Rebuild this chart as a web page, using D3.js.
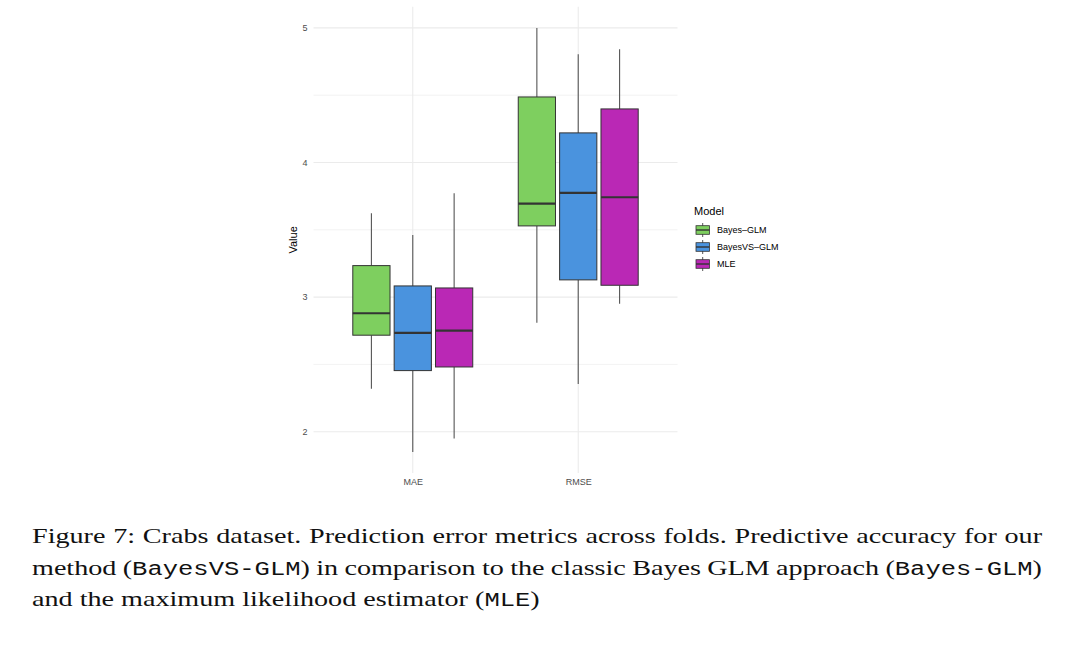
<!DOCTYPE html>
<html>
<head>
<meta charset="utf-8">
<script src="https://cdn.jsdelivr.net/npm/d3@7"></script>
<style>
  body { margin: 0; background: #fff; }
  svg { display: block; }
</style>
</head>
<body>
<svg id="chart" width="1080" height="645"></svg>
<script>
// metrics on the x axis, models in the dodge / legend
var categories = ["MAE", "RMSE"];
var models = ["Bayes-GLM", "BayesVS-GLM", "MLE"];
var colors = ["#7ECF5F", "#4A93DE", "#BA28B5"];

// box stats, [category][model]
var whiskerLow  = [[2.32, 1.85, 1.95], [2.81, 2.355, 2.95]];
var lowerQ      = [[2.717, 2.454, 2.481], [3.529, 3.128, 3.088]];
var medianV     = [[2.88, 2.734, 2.751], [3.695, 3.774, 3.742]];
var upperQ      = [[3.234, 3.083, 3.068], [4.487, 4.22, 4.398]];
var whiskerHigh = [[3.623, 3.462, 3.772], [5.0, 4.804, 4.842]];

var yTicks = [2, 3, 4, 5];
var yMinor = [2.5, 3.5, 4.5];

var captionLines = [
  [["Figure 7: Crabs dataset. Prediction error metrics across folds. Predictive accuracy for our", false]],
  [["method (", false], ["BayesVS-GLM", true], [") in comparison to the classic Bayes GLM approach (", false], ["Bayes-GLM", true], [")", false]],
  [["and the maximum likelihood estimator (", false], ["MLE", true], [")", false]]
];

var svg = d3.select("#chart");
var sans = "'Liberation Sans', Arial, sans-serif";

var panel = { left: 313.5, right: 677.5, top: 6.7, bottom: 473.1 };

// ggplot style 5% expansion of the data range
var lo = d3.min(whiskerLow, function(r) { return d3.min(r); });
var hi = d3.max(whiskerHigh, function(r) { return d3.max(r); });
var pad = (hi - lo) * 0.05;

var y = d3.scaleLinear().domain([lo - pad, hi + pad]).range([panel.bottom, panel.top]);
var x = d3.scalePoint().domain(categories).range([panel.left, panel.right]).padding(0.6);
var dodge = d3.scaleBand().domain(models).range([-0.375 * x.step(), 0.375 * x.step()]);
var boxW = dodge.bandwidth() * 0.9;

/* grid */
var grid = svg.append("g").attr("class", "grid");

grid.selectAll("line.minor").data(yMinor).enter().append("line")
    .attr("x1", panel.left).attr("x2", panel.right)
    .attr("y1", function(d) { return y(d); }).attr("y2", function(d) { return y(d); })
    .attr("stroke", "#EEEEEE").attr("stroke-width", 0.7);

grid.selectAll("line.major").data(yTicks).enter().append("line")
    .attr("x1", panel.left).attr("x2", panel.right)
    .attr("y1", function(d) { return y(d); }).attr("y2", function(d) { return y(d); })
    .attr("stroke", "#EBEBEB").attr("stroke-width", 1.1);

grid.selectAll("line.vert").data(categories).enter().append("line")
    .attr("x1", function(d) { return x(d); }).attr("x2", function(d) { return x(d); })
    .attr("y1", panel.top).attr("y2", panel.bottom)
    .attr("stroke", "#EBEBEB").attr("stroke-width", 1.1);

/* axes, drawn with d3 axes but no domain / tick marks (theme_minimal) */
var yAxis = svg.append("g")
    .attr("transform", "translate(" + panel.left + ",0)")
    .call(d3.axisLeft(y).tickValues(yTicks).tickSize(0).tickPadding(6).tickFormat(d3.format("d")));
var xAxis = svg.append("g")
    .attr("transform", "translate(0," + panel.bottom + ")")
    .call(d3.axisBottom(x).tickSize(0).tickPadding(6));

[yAxis, xAxis].forEach(function(a) {
  a.select(".domain").remove();
  a.selectAll("text").attr("fill", "#4D4D4D").style("font-family", sans).style("font-size", "9px");
});

svg.append("text")
    .attr("transform", "translate(297," + ((panel.top + panel.bottom) / 2) + ") rotate(-90)")
    .attr("text-anchor", "middle")
    .style("font-family", sans).style("font-size", "11px")
    .text("Value");

/* boxes */
var boxes = [];
categories.forEach(function(c, i) {
  models.forEach(function(m, j) {
    boxes.push({ cat: c, model: m, color: colors[j],
                 lo: whiskerLow[i][j], q1: lowerQ[i][j], med: medianV[i][j],
                 q3: upperQ[i][j], hi: whiskerHigh[i][j] });
  });
});

var bx = svg.append("g").attr("class", "boxes").selectAll("g").data(boxes).enter().append("g")
    .attr("transform", function(d) { return "translate(" + (x(d.cat) + dodge(d.model) + dodge.bandwidth() / 2) + ",0)"; });

bx.append("line").attr("x1", 0).attr("x2", 0)
    .attr("y1", function(d) { return y(d.hi); }).attr("y2", function(d) { return y(d.q3); })
    .attr("stroke", "#555").attr("stroke-width", 1.1);
bx.append("line").attr("x1", 0).attr("x2", 0)
    .attr("y1", function(d) { return y(d.q1); }).attr("y2", function(d) { return y(d.lo); })
    .attr("stroke", "#555").attr("stroke-width", 1.1);

bx.append("rect")
    .attr("x", -boxW / 2).attr("width", boxW)
    .attr("y", function(d) { return y(d.q3); })
    .attr("height", function(d) { return y(d.q1) - y(d.q3); })
    .attr("fill", function(d) { return d.color; })
    .attr("stroke", "#333").attr("stroke-width", 1);

bx.append("line")
    .attr("x1", -boxW / 2).attr("x2", boxW / 2)
    .attr("y1", function(d) { return y(d.med); }).attr("y2", function(d) { return y(d.med); })
    .attr("stroke", "#333").attr("stroke-width", 2.2);

/* legend */
var legend = svg.append("g").attr("transform", "translate(694,0)");
legend.append("text").attr("x", 0).attr("y", 215)
    .style("font-family", sans).style("font-size", "11px").text("Model");

var keys = legend.selectAll("g.key").data(models).enter().append("g")
    .attr("transform", function(d, i) { return "translate(2," + (230 + i * 17) + ")"; });

keys.append("line").attr("x1", 6.7).attr("x2", 6.7).attr("y1", -7).attr("y2", 7)
    .attr("stroke", "#555").attr("stroke-width", 1);
keys.append("rect").attr("x", 0).attr("y", -4.3).attr("width", 13.4).attr("height", 8.6)
    .attr("fill", function(d, i) { return colors[i]; })
    .attr("stroke", "#333").attr("stroke-width", 0.8);
keys.append("line").attr("x1", 0).attr("x2", 13.4).attr("y1", 0).attr("y2", 0)
    .attr("stroke", "#333").attr("stroke-width", 1.4);
keys.append("text").attr("x", 21).attr("y", 3.2)
    .style("font-family", sans).style("font-size", "9px")
    .text(function(d) { return d.replace("-", "\u2013"); });

/* caption: Liberation Serif stretched sideways to get close to Computer Modern widths */
var capLeft = 32, capRight = 1042, lastRight = 540;
var capBase = [543.5, 575, 606.5];

var cap = svg.append("g");

var capTexts = captionLines.map(function(parts, i) {
  var t = cap.append("text").attr("x", 0).attr("y", capBase[i])
      .style("font-family", "'Liberation Serif', 'Times New Roman', serif")
      .style("font-size", "21.5px").attr("fill", "#111");
  parts.forEach(function(p) {
    var s = t.append("tspan").text(p[0]);
    if (p[1]) s.style("font-family", "'Liberation Mono', 'DejaVu Sans Mono', monospace").style("font-size", "19.5px");
  });
  return t;
});

// last line is set at natural width, so it gives the stretch
var sx = (lastRight - capLeft) / capTexts[2].node().getComputedTextLength();
cap.attr("transform", "translate(" + capLeft + ",0) scale(" + sx + ",1)");

// justify the first two lines like TeX does
capTexts.forEach(function(t, i) {
  if (i == 2) return;
  var w = t.node().getComputedTextLength();
  var spaces = (t.text().match(/ /g) || []).length;
  t.style("word-spacing", (((capRight - capLeft) / sx - w) / spaces) + "px");
});
</script>
</body>
</html>
